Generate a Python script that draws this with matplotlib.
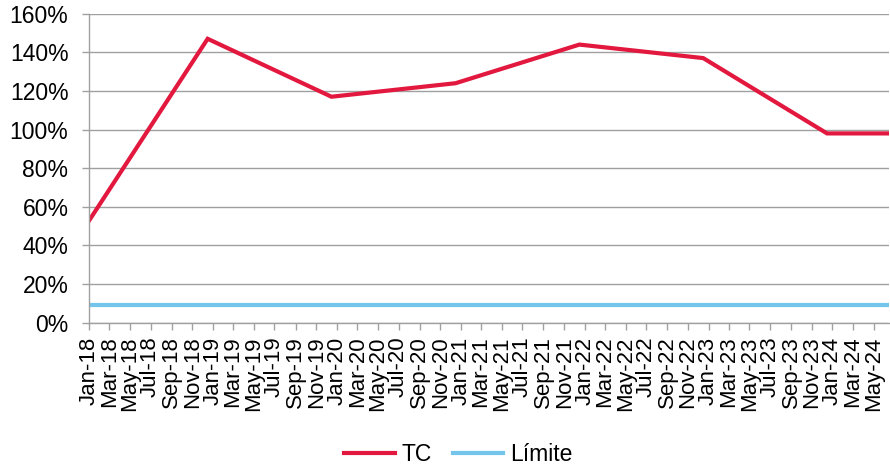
import matplotlib
matplotlib.use("Agg")
import matplotlib.pyplot as plt
import matplotlib.dates as mdates
import matplotlib.ticker as mticker
import numpy as np

plt.rcParams['font.family'] = ['Liberation Sans', 'DejaVu Sans']

# Observation dates and ratio values (%)
dates = np.array(['2018-01-01', '2018-12-16', '2019-12-16', '2020-12-16',
                  '2021-12-16', '2022-12-16', '2023-12-16', '2024-06-16'],
                 dtype='datetime64[D]')
tc = [53, 147, 117, 124, 144, 137, 98, 98]
limite = 9

red = '#E2183F'
blue = '#74C5EB'
grey = '#a0a0a0'

fig = plt.figure(figsize=(8.9, 4.7), dpi=100)
ax = fig.add_axes([0.1003, 0.3134, 0.8987, 0.6575])

ax.plot(dates, tc, color=red, lw=3, label='TC', solid_joinstyle='miter')
ax.plot([dates[0], dates[-1]], [limite, limite], color=blue, lw=3, label='Límite')

ax.set_xlim(dates[0], dates[-1])
ax.set_ylim(0, 160)
ax.yaxis.set_major_locator(mticker.MultipleLocator(20))
ax.yaxis.set_major_formatter(mticker.FuncFormatter(lambda v, p: f'{v:.0f}%'))

# two-month date ticks
ax.xaxis.set_major_locator(mdates.MonthLocator(bymonth=[1, 3, 5, 7, 9, 11]))
ax.xaxis.set_major_formatter(mdates.DateFormatter('%b-%y'))
plt.setp(ax.get_xticklabels(), rotation=90, va='top', ha='center', fontsize=16)

ax.grid(axis='y', color=grey, lw=1)
ax.set_axisbelow(True)
for s in ['top', 'right']:
    ax.spines[s].set_visible(False)
for s in ['left', 'bottom']:
    ax.spines[s].set_color(grey)
    ax.spines[s].set_linewidth(1)
ax.tick_params(axis='both', color=grey, length=5, width=1)
ax.tick_params(axis='y', pad=10, labelsize=16.5)
ax.tick_params(axis='x', pad=5)

fig.legend(loc='center', bbox_to_anchor=(0.515, 0.032), ncol=2, frameon=False,
           fontsize=16.5, handlelength=2.2, handletextpad=0.3, columnspacing=0.9)

fig.savefig('out.png', dpi=100)
